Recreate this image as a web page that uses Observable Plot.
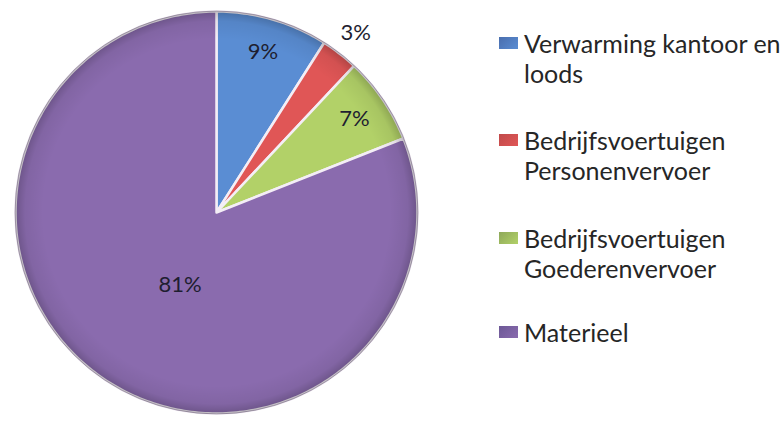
<!DOCTYPE html>
<html>
<head>
<meta charset="utf-8">
<script src="https://cdn.jsdelivr.net/npm/d3@7"></script>
<script src="https://cdn.jsdelivr.net/npm/@observablehq/plot@0.6"></script>
<style>
  html, body { margin: 0; padding: 0; background: #fff; }
  #wrap { position: relative; width: 783px; height: 422px; overflow: hidden; }
  #legend { position: absolute; left: 0; top: 0; font-family: Lato, "Open Sans", sans-serif; font-size: 25px; color: #262626; }
  .item { position: absolute; left: 524px; line-height: 30px; white-space: nowrap; }
  .sw { position: absolute; left: 499px; width: 19px; height: 12px; }
</style>
</head>
<body>
<div id="wrap"><div id="chart"></div><div id="legend"></div></div>
<script>
// ---- data ----
const categories = ["Verwarming kantoor en loods", "Bedrijfsvoertuigen Personenvervoer", "Bedrijfsvoertuigen Goederenvervoer", "Materieel"];
const legendLines = [["Verwarming kantoor en", "loods"], ["Bedrijfsvoertuigen", "Personenvervoer"], ["Bedrijfsvoertuigen", "Goederenvervoer"], ["Materieel"]];
const values = [9, 3, 7, 81];
const colors = ["#5a8dd3", "#e05656", "#b2d168", "#8a6bae"];
const swatchColors = ["#4a6eae", "#c04a4a", "#8ea85a", "#6c5896"];

// ---- geometry from values ----
const total = d3.sum(values);
const starts = d3.cumsum([0, ...values]).slice(0, values.length);
const toAngle = v => (v / total) * 2 * Math.PI; // clockwise from 12 o'clock
const pts = [];
categories.forEach((c, i) => {
  const a0 = toAngle(starts[i]), a1 = toAngle(starts[i] + values[i]);
  pts.push({cat: c, x: 0, y: 0});
  const n = Math.max(2, Math.ceil((a1 - a0) / (Math.PI / 180)));
  for (let k = 0; k <= n; k++) {
    const a = a0 + (a1 - a0) * k / n;
    pts.push({cat: c, x: Math.sin(a), y: Math.cos(a)});
  }
});
const labels = categories.map((c, i) => {
  const mid = toAngle(starts[i] + values[i] / 2);
  const share = values[i] / total;
  const r = share < 0.05 ? 1.13 : share > 0.5 ? 0.42 : 0.83;
  return {cat: c, text: Math.round(share * 100) + "%", x: r * Math.sin(mid), y: r * Math.cos(mid), big: share > 0.5};
});

const chart = Plot.plot({
  width: 783,
  height: 422,
  marginLeft: 15, marginRight: 366, marginTop: 11, marginBottom: 9,
  x: {domain: [-1, 1], axis: null},
  y: {domain: [-1, 1], axis: null},
  color: {domain: categories, range: colors},
  style: {fontFamily: "Lato, 'Open Sans', sans-serif", background: "transparent"},
  marks: [
    Plot.line(pts, {x: "x", y: "y", z: "cat", fill: "cat", stroke: "#f4eef6", strokeWidth: 2.5, strokeLinejoin: "round", curve: "linear-closed"}),
    Plot.dot([{x: 0, y: 0}], {x: "x", y: "y", r: 201.5, fill: "url(#rimGrad)", stroke: "rgba(60,40,80,0.35)", strokeWidth: 1}),
    Plot.text(labels.filter(d => !d.big), {x: "x", y: "y", text: "text", fontSize: 22, fill: "#1e1e30"}),
    Plot.text(labels.filter(d => d.big), {x: "x", y: "y", text: "text", fontSize: 22, fill: "#1e1e30", dx: 11, dy: 3})
  ]
});

// radial rim shading to mimic the bevel
const svg = d3.select(chart);
const defs = svg.insert("defs", ":first-child");
const g = defs.append("radialGradient").attr("id", "rimGrad");
g.append("stop").attr("offset", "0.86").attr("stop-color", "#000").attr("stop-opacity", 0);
g.append("stop").attr("offset", "0.95").attr("stop-color", "#000").attr("stop-opacity", 0.06);
g.append("stop").attr("offset", "1").attr("stop-color", "#000").attr("stop-opacity", 0.22);

document.getElementById("chart").appendChild(chart);

// legend
const legend = document.getElementById("legend");
const itemTops = [28, 125, 223, 317];
legendLines.forEach((lines, i) => {
  const sw = document.createElement("div");
  sw.className = "sw";
  sw.style.top = (itemTops[i] + 9) + "px";
  sw.style.background = `linear-gradient(135deg, ${swatchColors[i]}, ${colors[i]})`;
  legend.appendChild(sw);
  const t = document.createElement("div");
  t.className = "item";
  t.style.top = itemTops[i] + "px";
  t.innerHTML = lines.join("<br>");
  legend.appendChild(t);
});
</script>
</body>
</html>
